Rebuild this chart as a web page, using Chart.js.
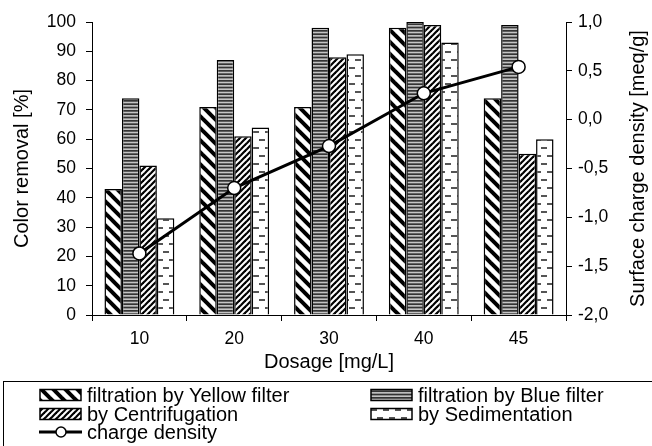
<!DOCTYPE html>
<html><head><meta charset="utf-8">
<script src="https://cdn.jsdelivr.net/npm/chart.js@4"></script>
<style>
html,body{margin:0;padding:0;background:#fff;}
#wrap{position:relative;width:652px;height:446px;overflow:hidden;font-family:"Liberation Sans",Arial,sans-serif;}
#c{position:absolute;left:0;top:0;}
#legend{position:absolute;left:3px;top:381px;width:700px;height:100px;border:1px solid #000;box-sizing:border-box;}
.item{position:absolute;font-size:20px;line-height:20px;white-space:nowrap;color:#000;}
.sw{position:absolute;}
</style></head>
<body><div id="wrap"><canvas id="c" width="652" height="446"></canvas><div id="legend"></div></div>
<script>
const categories = ['10', '20', '30', '40', '45'];
const yellowFilter = [43, 71, 71, 98, 74];
const blueFilter = [74, 87, 98, 100, 99];
const centrifugation = [51, 61, 88, 99, 55];
const sedimentation = [33, 64, 89, 93, 60];
const chargeDensity = [-1.37, -0.70, -0.27, 0.27, 0.54];
const removalTicks = [0, 10, 20, 30, 40, 50, 60, 70, 80, 90, 100];
const chargeTicks = [-2.0, -1.5, -1.0, -0.5, 0.0, 0.5, 1.0];
const seriesNames = ['filtration by Yellow filter', 'filtration by Blue filter', 'by Centrifugation', 'by Sedimentation', 'charge density'];

const FONT = '"Liberation Sans", Arial, sans-serif';

function tile(w, h, draw) {
  const c = document.createElement('canvas');
  c.width = w; c.height = h;
  const x = c.getContext('2d');
  x.fillStyle = '#fff'; x.fillRect(0, 0, w, h);
  draw(x, w, h);
  return c;
}
const tiles = {
  yellow: tile(12, 12, (x) => {
    x.strokeStyle = '#000'; x.lineWidth = 4;
    for (const k of [-12, 0, 12]) { x.beginPath(); x.moveTo(k - 2, -2); x.lineTo(k + 14, 14); x.stroke(); }
  }),
  blue: tile(4, 10, (x) => {
    x.fillStyle = '#c4c4c4'; x.fillRect(0, 0, 4, 10);
    x.fillStyle = '#333';
    for (const y of [0, 3.33, 6.67]) x.fillRect(0, y, 4, 1.7);
  }),
  centr: tile(6, 6, (x) => {
    x.strokeStyle = '#000'; x.lineWidth = 2.2;
    for (const k of [-6, 0, 6]) { x.beginPath(); x.moveTo(k - 1, 7); x.lineTo(k + 7, -1); x.stroke(); }
  }),
  sed: tile(12, 16, (x) => {
    x.fillStyle = '#555';
    x.fillRect(1, 3, 6, 2);
    x.fillRect(7, 11, 6, 2);
    x.fillRect(-5, 11, 6, 2);
  })
};

const canvas = document.getElementById('c');
const ctx = canvas.getContext('2d');
const pat = {};
for (const k in tiles) pat[k] = ctx.createPattern(tiles[k], 'repeat');

const rightTitle = {
  id: 'rightTitle',
  afterDraw(chart) {
    const a = chart.chartArea, c = chart.ctx;
    c.save();
    c.translate(638, (a.top + a.bottom) / 2);
    c.rotate(-Math.PI / 2);
    c.font = '20px ' + FONT;
    c.fillStyle = '#000';
    c.textAlign = 'center';
    c.textBaseline = 'middle';
    c.fillText('Surface charge density [meq/g]', 0, 0);
    c.restore();
  }
};

const axisGrid = { display: true, drawOnChartArea: false, tickLength: 6, color: '#000', lineWidth: 1 };
const tickFont = { size: 17.5, family: FONT };

new Chart(canvas, {
  type: 'bar',
  data: {
    labels: categories,
    datasets: [
      { label: seriesNames[0], data: yellowFilter, backgroundColor: pat.yellow, borderColor: '#000', borderWidth: 1.5, yAxisID: 'y', order: 2 },
      { label: seriesNames[1], data: blueFilter, backgroundColor: pat.blue, borderColor: '#000', borderWidth: 1.5, yAxisID: 'y', order: 2 },
      { label: seriesNames[2], data: centrifugation, backgroundColor: pat.centr, borderColor: '#000', borderWidth: 1.5, yAxisID: 'y', order: 2 },
      { label: seriesNames[3], data: sedimentation, backgroundColor: pat.sed, borderColor: '#000', borderWidth: 1.5, yAxisID: 'y', order: 2 },
      { type: 'line', label: seriesNames[4], data: chargeDensity, yAxisID: 'y1', borderColor: '#000', borderWidth: 3,
        pointRadius: 6.5, pointBorderWidth: 1.5, pointBackgroundColor: '#fff', pointBorderColor: '#000', tension: 0, order: 0 }
    ]
  },
  options: {
    responsive: false,
    animation: false,
    devicePixelRatio: 1,
    layout: { padding: { top: 22, bottom: 70, left: 0, right: 0 } },
    datasets: { bar: { categoryPercentage: 0.737, barPercentage: 1 } },
    plugins: { legend: { display: false }, tooltip: { enabled: false } },
    scales: {
      x: {
        offset: true,
        grid: Object.assign({ offset: true }, axisGrid),
        border: { color: '#000', width: 1 },
        ticks: { font: tickFont, color: '#000', padding: 8 },
        title: { display: true, text: 'Dosage [mg/L]', color: '#000', font: { size: 20, family: FONT }, padding: { top: 0, bottom: 2 } },
        afterFit: (s) => { s.height = 61; }
      },
      y: {
        position: 'left', min: 0, max: 100,
        afterBuildTicks: (s) => { s.ticks = removalTicks.map(v => ({ value: v })); },
        grid: axisGrid,
        border: { color: '#000', width: 1 },
        ticks: { font: tickFont, color: '#000', padding: 10 },
        title: { display: true, text: 'Color removal [%]', color: '#000', font: { size: 20, family: FONT }, padding: { top: 10, bottom: 0 } },
        afterFit: (s) => { s.width = 92; }
      },
      y1: {
        position: 'right', min: -2, max: 1,
        afterBuildTicks: (s) => { s.ticks = chargeTicks.map(v => ({ value: v })); },
        grid: axisGrid,
        border: { color: '#000', width: 1 },
        ticks: { font: tickFont, color: '#000', padding: 6, callback: (v) => Number(v).toFixed(1).replace('.', ',') },
        afterFit: (s) => { s.width = 86; }
      }
    }
  },
  plugins: [rightTitle]
});

// HTML legend
const legend = document.getElementById('legend');
const LX = 3, LY = 381;
const items = [
  { name: seriesNames[0], tile: tiles.yellow, x: 39, y: 395 },
  { name: seriesNames[1], tile: tiles.blue, x: 370, y: 395 },
  { name: seriesNames[2], tile: tiles.centr, x: 39, y: 414 },
  { name: seriesNames[3], tile: tiles.sed, x: 370, y: 414 },
  { name: seriesNames[4], line: true, x: 39, y: 432 }
];
for (const it of items) {
  const sw = document.createElement('canvas');
  sw.className = 'sw';
  sw.width = 44; sw.height = 16;
  sw.style.left = (it.x - LX - 1) + 'px';
  sw.style.top = (it.y - 8 - LY - 1) + 'px';
  const x = sw.getContext('2d');
  if (it.line) {
    x.strokeStyle = '#000'; x.lineWidth = 3;
    x.beginPath(); x.moveTo(0, 8); x.lineTo(43, 8); x.stroke();
    x.beginPath(); x.arc(22, 8, 5, 0, Math.PI * 2); x.fillStyle = '#fff'; x.fill();
    x.lineWidth = 1.5; x.stroke();
  } else {
    x.fillStyle = x.createPattern(it.tile, 'repeat');
    x.fillRect(1, 2.5, 41, 11);
    x.strokeStyle = '#000'; x.lineWidth = 1.5;
    x.strokeRect(1, 2.5, 41, 11);
  }
  legend.appendChild(sw);
  const t = document.createElement('div');
  t.className = 'item';
  t.textContent = it.name;
  t.style.left = (it.x + 48 - LX - 1) + 'px';
  t.style.top = (it.y - 10 - LY - 1) + 'px';
  legend.appendChild(t);
}
</script>
</body></html>
